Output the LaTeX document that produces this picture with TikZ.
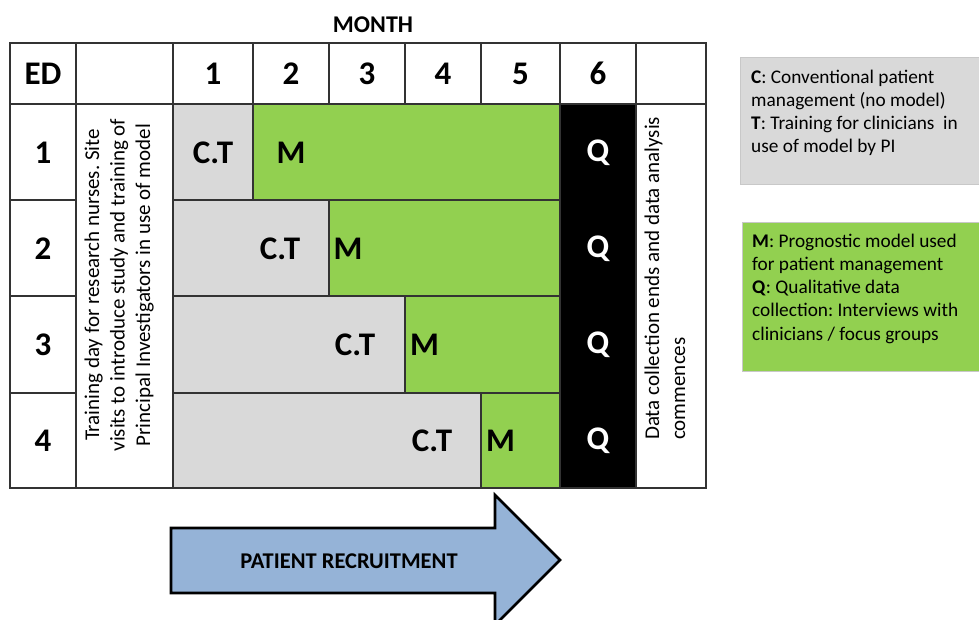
\documentclass[tikz,border=0pt]{standalone}
\usepackage{fontspec}
\setmainfont{Carlito}
\frenchspacing
\definecolor{cgray}{HTML}{D9D9D9}
\definecolor{cgreen}{HTML}{92D050}
\definecolor{cblue}{HTML}{95B3D7}
\definecolor{cline}{HTML}{333333}
\definecolor{cbord}{HTML}{C8C8C8}
\begin{document}
\begin{tikzpicture}[x=1pt,y=-1pt,
  grid/.style={draw=cline,line width=1.6pt},
  big/.style={font=\fontsize{33}{40}\selectfont\bfseries,inner sep=0pt},
  rot/.style={font=\fontsize{21}{25.6}\selectfont,rotate=90,inner sep=0pt},
  leg/.style={font=\fontsize{19.3}{23.5}\selectfont,anchor=base west,inner sep=0pt}]
\clip (0,0) rectangle (979,620);
\fill[white] (0,0) rectangle (979,620);
% fills
\fill[cgray] (173,104) rectangle (253,200);
\fill[cgreen] (253,104) rectangle (560,200);
\fill[cgray] (173,200) rectangle (329,296);
\fill[cgreen] (329,200) rectangle (560,296);
\fill[cgray] (173,296) rectangle (405,393);
\fill[cgreen] (405,296) rectangle (560,393);
\fill[cgray] (173,393) rectangle (481,488);
\fill[cgreen] (481,393) rectangle (560,488);
\fill[black] (560,104) rectangle (636,488);
% grid lines
\draw[grid] (10,43) rectangle (706,488);
\draw[grid] (10,104) -- (706,104);
\foreach \x in {76,173,560,636} \draw[grid] (\x,43) -- (\x,488);
\foreach \x in {253,329,405,481} \draw[grid] (\x,43) -- (\x,104);
\foreach \y in {200,296,393} {\draw[grid] (10,\y) -- (76,\y); \draw[grid] (173,\y) -- (560,\y);}
\draw[grid] (253,104) -- (253,200);
\draw[grid] (329,200) -- (329,296);
\draw[grid] (405,296) -- (405,393);
\draw[grid] (481,393) -- (481,488);
% header
\node[font=\fontsize{24}{29}\selectfont\bfseries,inner sep=0pt] (month) at (373,25) {MONTH};
\node[big] (ed) at (43,73.5) {ED};
\node[big] (m1) at (213,73.5) {1};
\node[big] (m2) at (291,73.5) {2};
\node[big] (m3) at (367,73.5) {3};
\node[big] (m4) at (443,73.5) {4};
\node[big] (m5) at (520.5,73.5) {5};
\node[big] (m6) at (598,73.5) {6};
% row numbers
\node[big] (r1) at (43,153) {1};
\node[big] (r2) at (43,249) {2};
\node[big] (r3) at (43,345) {3};
\node[big] (r4) at (43,441) {4};
% C.T
\node[big] (ct1) at (213,153) {C.T};
\node[big] (ct2) at (280,249) {C.T};
\node[big] (ct3) at (355,345) {C.T};
\node[big] (ct4) at (432,441) {C.T};
% M
\node[big] (mm1) at (291,153) {M};
\node[big] (mm2) at (348,249) {M};
\node[big] (mm3) at (424.5,345) {M};
\node[big] (mm4) at (500.5,441) {M};
% Q
\node[big,text=white] (q1) at (598,153) {Q};
\node[big,text=white] (q2) at (598,249) {Q};
\node[big,text=white] (q3) at (598,345) {Q};
\node[big,text=white] (q4) at (598,441) {Q};
% rotated texts
\node[rot,anchor=base] (tr1) at (99,285) {Training day for research nurses. Site};
\node[rot,anchor=base] (tr2) at (124.5,285) {visits to introduce study and training of};
\node[rot,anchor=base] (tr3) at (150,285) {Principal Investigators in use of model};
\node[rot,anchor=base west] (dc1) at (659,440) {Data collection ends and data analysis};
\node[rot,anchor=base west] (dc2) at (685,440) {commences};
% legends
\draw[cbord,fill=cgray,line width=1pt] (740,58) rectangle (990,185);
\draw[cbord,fill=cgreen,line width=1pt] (742,223) rectangle (990,371);
\node[leg] (l1) at (751,83.6) {\textbf{C}: Conventional patient};
\node[leg] (l2) at (751,106.6) {management (no model)};
\node[leg] (l3) at (751,129.6) {\textbf{T}: Training for clinicians~ in};
\node[leg] (l4) at (751,152.6) {use of model by PI};
\node[leg] (g1) at (752,247.6) {\textbf{M}: Prognostic model used};
\node[leg] (g2) at (752,270.7) {for patient management};
\node[leg] (g3) at (752,293.8) {\textbf{Q}: Qualitative data};
\node[leg] (g4) at (752,316.9) {collection: Interviews with};
\node[leg] (g5) at (752,340) {clinicians / focus groups};
% arrow
\draw[line width=2.6pt,fill=cblue,line join=miter] (171,528) -- (495,528) -- (495,495) -- (560,560) -- (495,625) -- (495,593) -- (171,593) -- cycle;
\node[font=\fontsize{22.5}{27}\selectfont\bfseries,inner sep=0pt] (pr) at (349,561) {PATIENT RECRUITMENT};
\end{tikzpicture}
\end{document}
